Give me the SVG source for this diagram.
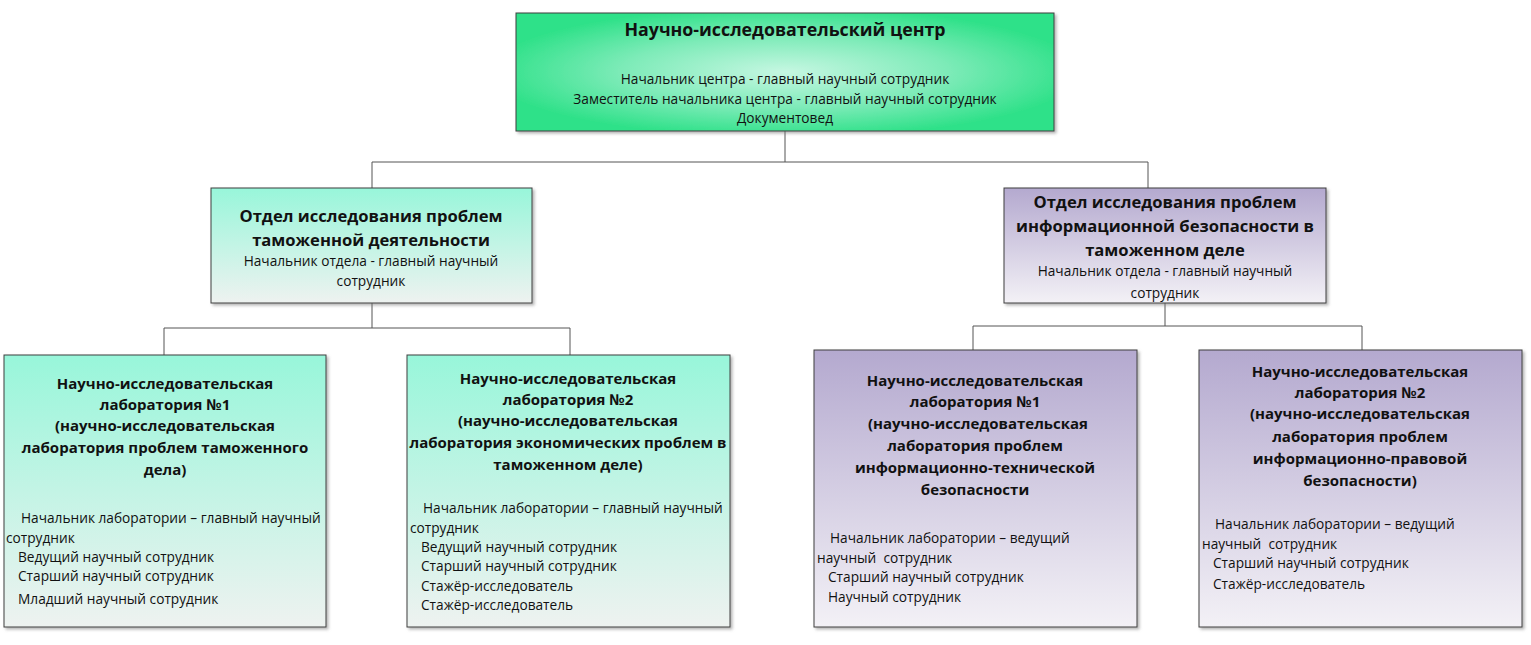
<svg xmlns="http://www.w3.org/2000/svg" width="1531" height="645" viewBox="0 0 1531 645">
<defs>
<radialGradient id="gTop" cx="50%" cy="50%" r="55%">
<stop offset="0" stop-color="#c6f7e2"/>
<stop offset="0.55" stop-color="#7debb8"/>
<stop offset="1" stop-color="#2fe189"/>
</radialGradient>
<linearGradient id="gAqua" x1="0" y1="0" x2="0" y2="1">
<stop offset="0" stop-color="#98f6da"/>
<stop offset="1" stop-color="#eef2f0"/>
</linearGradient>
<linearGradient id="gLav" x1="0" y1="0" x2="0" y2="1">
<stop offset="0" stop-color="#b4a9cf"/>
<stop offset="1" stop-color="#f3f1f6"/>
</linearGradient>
<filter id="sh" x="-5%" y="-5%" width="112%" height="115%">
<feDropShadow dx="2" dy="2" stdDeviation="1.5" flood-color="#777" flood-opacity="0.55"/>
</filter>
</defs>
<style>
.box{stroke:#3f3f3f;stroke-width:1;filter:url(#sh)}
.t{font-family:"Open Sans","Noto Sans","Liberation Sans",sans-serif;fill:#111}
.b{font-weight:bold}
.c{text-anchor:middle}
.s17{font-size:17.8px}
.s16{font-size:16.6px}
.s15{font-size:15px}
.s13{font-size:13.7px}
.conn{fill:none;stroke:#555;stroke-width:1}
</style>
<rect width="1531" height="645" fill="#ffffff"/>

<g id="connectors">
<path class="conn" d="M785 131V162M372 162H1148M372 162V188M1148 162V188"/>
<path class="conn" d="M372 303V328M164 328H570M164 328V355M570 328V355"/>
<path class="conn" d="M1165 303V326M973 326H1362M973 326V350M1362 326V350"/>
</g>

<g id="center">
<rect class="box" x="516" y="13" width="538" height="118" fill="url(#gTop)"/>
<text class="t b c s17" x="785" y="36">Научно-исследовательский центр</text>
<text class="t c s13" x="785" y="84">Начальник центра - главный научный сотрудник</text>
<text class="t c s13" x="785" y="104">Заместитель начальника центра - главный научный сотрудник</text>
<text class="t c s13" x="785" y="123">Документовед</text>
</g>

<g id="dept1">
<rect class="box" x="211" y="188" width="321" height="115" fill="url(#gAqua)"/>
<text class="t b c s16" x="371" y="222">Отдел исследования проблем</text>
<text class="t b c s16" x="371" y="246">таможенной деятельности</text>
<text class="t c s13" x="371" y="266">Начальник отдела - главный научный</text>
<text class="t c s13" x="371" y="286">сотрудник</text>
</g>

<g id="dept2">
<rect class="box" x="1004" y="188" width="322" height="115" fill="url(#gLav)"/>
<text class="t b c s16" x="1165" y="208">Отдел исследования проблем</text>
<text class="t b c s16" x="1165" y="232">информационной безопасности в</text>
<text class="t b c s16" x="1165" y="256">таможенном деле</text>
<text class="t c s13" x="1165" y="276">Начальник отдела - главный научный</text>
<text class="t c s13" x="1165" y="298">сотрудник</text>
</g>

<g id="lab1-1">
<rect class="box" x="4" y="355" width="322" height="272" fill="url(#gAqua)"/>
<text class="t b c s15" x="165" y="389">Научно-исследовательская</text>
<text class="t b c s15" x="165" y="410">лаборатория №1</text>
<text class="t b c s15" x="165" y="431">(научно-исследовательская</text>
<text class="t b c s15" x="165" y="453">лаборатория проблем таможенного</text>
<text class="t b c s15" x="165" y="475">дела)</text>
<text class="t s13" x="21" y="523">Начальник лаборатории – главный научный</text>
<text class="t s13" x="6" y="543">сотрудник</text>
<text class="t s13" x="18" y="562">Ведущий научный сотрудник</text>
<text class="t s13" x="18" y="581">Старший научный сотрудник</text>
<text class="t s13" x="18" y="604">Младший научный сотрудник</text>
</g>

<g id="lab1-2">
<rect class="box" x="407" y="355" width="323" height="272" fill="url(#gAqua)"/>
<text class="t b c s15" x="568" y="384">Научно-исследовательская</text>
<text class="t b c s15" x="568" y="405">лаборатория №2</text>
<text class="t b c s15" x="568" y="426">(научно-исследовательская</text>
<text class="t b c s15" x="568" y="448">лаборатория экономических проблем в</text>
<text class="t b c s15" x="568" y="470">таможенном деле)</text>
<text class="t s13" x="423" y="513">Начальник лаборатории – главный научный</text>
<text class="t s13" x="410" y="533">сотрудник</text>
<text class="t s13" x="421" y="552">Ведущий научный сотрудник</text>
<text class="t s13" x="421" y="571">Старший научный сотрудник</text>
<text class="t s13" x="421" y="591">Стажёр-исследователь</text>
<text class="t s13" x="421" y="610">Стажёр-исследователь</text>
</g>

<g id="lab2-1">
<rect class="box" x="814" y="350" width="323" height="277" fill="url(#gLav)"/>
<text class="t b c s15" x="975" y="386">Научно-исследовательская</text>
<text class="t b c s15" x="975" y="407">лаборатория №1</text>
<text class="t b c s15" x="978" y="429">(научно-исследовательская</text>
<text class="t b c s15" x="975" y="451">лаборатория проблем</text>
<text class="t b c s15" x="975" y="473">информационно-технической</text>
<text class="t b c s15" x="975" y="495">безопасности</text>
<text class="t s13" x="830" y="543">Начальник лаборатории – ведущий</text>
<text class="t s13" x="817" y="563" xml:space="preserve">научный  сотрудник</text>
<text class="t s13" x="828" y="582">Старший научный сотрудник</text>
<text class="t s13" x="828" y="602">Научный сотрудник</text>
</g>

<g id="lab2-2">
<rect class="box" x="1199" y="350" width="323" height="277" fill="url(#gLav)"/>
<text class="t b c s15" x="1360" y="377">Научно-исследовательская</text>
<text class="t b c s15" x="1360" y="398">лаборатория №2</text>
<text class="t b c s15" x="1360" y="419">(научно-исследовательская</text>
<text class="t b c s15" x="1360" y="442">лаборатория проблем</text>
<text class="t b c s15" x="1360" y="464">информационно-правовой</text>
<text class="t b c s15" x="1360" y="486">безопасности)</text>
<text class="t s13" x="1215" y="529">Начальник лаборатории – ведущий</text>
<text class="t s13" x="1202" y="549" xml:space="preserve">научный  сотрудник</text>
<text class="t s13" x="1213" y="568">Старший научный сотрудник</text>
<text class="t s13" x="1213" y="589">Стажёр-исследователь</text>
</g>
</svg>
